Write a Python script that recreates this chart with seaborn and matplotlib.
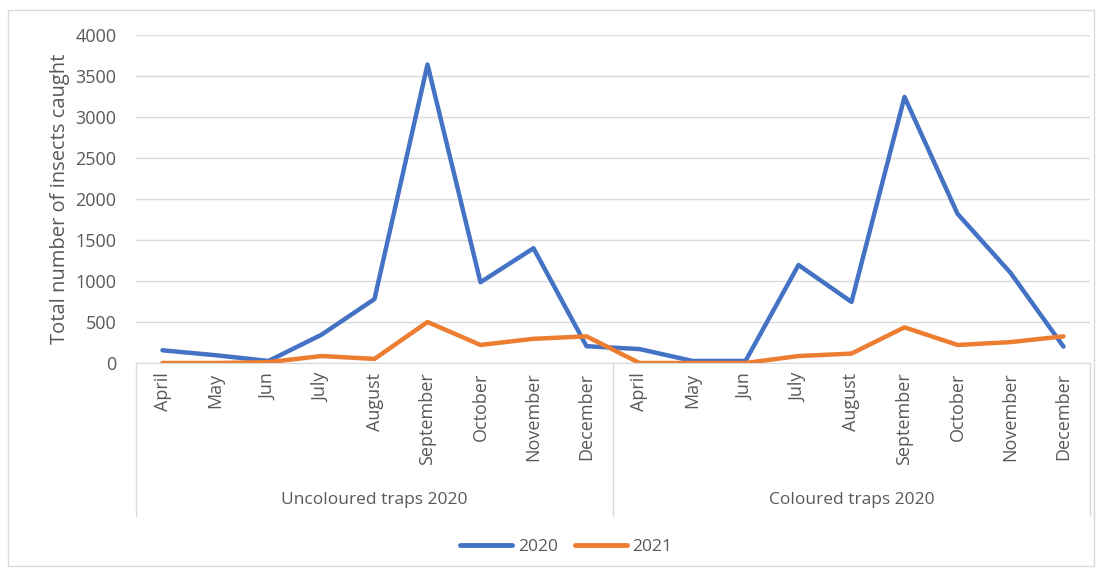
import pandas as pd
import matplotlib
matplotlib.use("Agg")
import matplotlib.pyplot as plt
import matplotlib.transforms as mtransforms
from matplotlib.patches import Rectangle
import seaborn as sns

# data
months = ["April", "May", "Jun", "July", "August", "September",
          "October", "November", "December"]
groups = ["Uncoloured traps 2020", "Coloured traps 2020"]
vals_2020 = [155, 95, 25, 345, 780, 3640, 985, 1400, 205,
             170, 25, 25, 1195, 745, 3245, 1820, 1100, 200]
vals_2021 = [0, 0, 10, 85, 50, 500, 220, 295, 325,
             0, 0, 0, 85, 115, 435, 220, 255, 325]
years = ["2020", "2021"]
colors = ["#4472C4", "#ED7D31"]
yticks = [0, 500, 1000, 1500, 2000, 2500, 3000, 3500, 4000]

sns.set_style("white")
plt.rcParams["font.family"] = ["Open Sans", "DejaVu Sans"]
GRAY = "#595959"

labels = months * len(groups)
pos = list(range(len(labels)))
df = pd.DataFrame({
    "pos": pos * 2,
    "value": vals_2020 + vals_2021,
    "year": [years[0]] * len(pos) + [years[1]] * len(pos),
})

fig = plt.figure(figsize=(11.04, 5.75), dpi=100)
ax = fig.add_axes([136 / 1104, 1 - 363 / 575, (1090 - 136) / 1104, (363 - 35) / 575])

sns.lineplot(data=df, x="pos", y="value", hue="year", palette=colors,
             linewidth=3.2, ax=ax, legend=False)

ax.set_xlim(-0.5, len(labels) - 0.5)
ax.set_ylim(0, 4000)
ax.set_yticks(yticks)
ax.set_yticklabels([str(v) for v in yticks], fontsize=13, color=GRAY)
ax.set_xticks(pos)
ax.set_xticklabels(labels, rotation=90, fontsize=13, color=GRAY, va="top")
ax.tick_params(axis="y", length=0, pad=14)
ax.tick_params(axis="x", length=0, pad=7)
ax.yaxis.grid(True, color="#D9D9D9", linewidth=1)
ax.set_axisbelow(True)
for s in ["top", "right", "left"]:
    ax.spines[s].set_visible(False)
ax.spines["bottom"].set_color("#D9D9D9")
ax.set_xlabel("")
ax.set_ylabel("Total number of insects caught", fontsize=14.5, color=GRAY, labelpad=4)

# group row of the category axis
trans = mtransforms.blended_transform_factory(ax.transData, ax.transAxes)
n = len(months)
for i in range(len(groups) + 1):
    ax.plot([i * n - 0.5, i * n - 0.5], [0, -0.465], transform=trans,
            color="#D9D9D9", linewidth=1, clip_on=False)
for i, g in enumerate(groups):
    ax.text(i * n + (n - 1) / 2, -0.418, g, transform=trans, ha="center",
            va="center", fontsize=12.5, color=GRAY)

# legend
handles = [plt.Line2D([], [], color=c, linewidth=3.5) for c in colors]
fig.legend(handles, years, loc="center", bbox_to_anchor=(0.513, 1 - 547 / 575),
           ncol=2, frameon=False, fontsize=12.5, labelcolor=GRAY,
           handlelength=3, columnspacing=1.0, handletextpad=0.3)

# chart border
fig.patches.append(Rectangle((8 / 1104, 1 - 566 / 575), 1086 / 1104, 556 / 575,
                             transform=fig.transFigure, fill=False,
                             edgecolor="#D9D9D9", linewidth=1))

fig.savefig("out.png", dpi=100)
